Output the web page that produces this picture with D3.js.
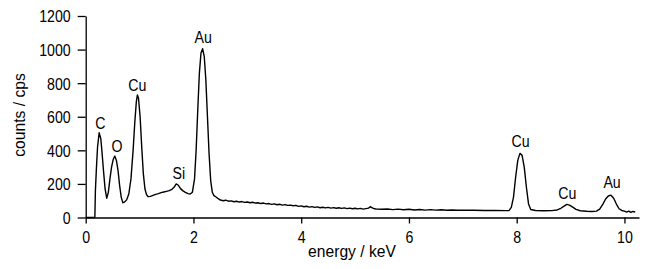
<!DOCTYPE html>
<html>
<head>
<meta charset="utf-8">
<script src="https://cdn.jsdelivr.net/npm/d3@7"></script>
<style>
  html, body { margin: 0; padding: 0; background: #fff; }
  svg { display: block; }
  text { font-family: "Liberation Sans", Arial, sans-serif; fill: #000; }
</style>
</head>
<body>
<svg id="chart" width="647" height="269"></svg>
<script>
// Spectrum: energy (keV) and counts (cps)
const energy = [
  0.00, 0.17, 0.18, 0.20, 0.22, 0.25, 0.28, 0.30, 0.33, 0.36, 0.39, 0.42, 0.45, 0.48, 0.51, 0.54, 0.57, 0.60, 0.63, 0.66, 0.69,
  0.72, 0.76, 0.80, 0.84, 0.88, 0.91, 0.94, 0.96, 0.98, 1.01, 1.04, 1.07, 1.10, 1.13, 1.16, 1.20, 1.25, 1.30, 1.35, 1.40, 1.45,
  1.50, 1.55, 1.60, 1.64, 1.68, 1.72, 1.76, 1.80, 1.85, 1.90, 1.94, 1.98, 2.02, 2.05, 2.08, 2.11, 2.14, 2.17, 2.20, 2.23, 2.26,
  2.29, 2.32, 2.35, 2.38, 2.42, 2.46, 2.50, 2.55, 2.60, 2.65, 2.70, 2.75, 2.80, 2.85, 2.90, 2.95, 3.00, 3.05, 3.10, 3.15, 3.20,
  3.25, 3.30, 3.35, 3.40, 3.45, 3.50, 3.55, 3.60, 3.65, 3.70, 3.75, 3.80, 3.85, 3.90, 3.95, 4.00, 4.05, 4.10, 4.15, 4.20, 4.25,
  4.30, 4.35, 4.40, 4.45, 4.50, 4.55, 4.60, 4.65, 4.70, 4.75, 4.80, 4.85, 4.90, 4.95, 5.00, 5.05, 5.10, 5.15, 5.20, 5.25, 5.28,
  5.32, 5.36, 5.40, 5.50, 5.60, 5.70, 5.80, 5.90, 6.00, 6.10, 6.20, 6.30, 6.40, 6.50, 6.60, 6.70, 6.80, 6.90, 7.00, 7.20, 7.40,
  7.60, 7.80, 7.86, 7.90, 7.94, 7.98, 8.02, 8.06, 8.10, 8.14, 8.18, 8.22, 8.26, 8.35, 8.50, 8.65, 8.75, 8.82, 8.88, 8.93, 8.98,
  9.04, 9.10, 9.18, 9.30, 9.40, 9.48, 9.54, 9.60, 9.65, 9.70, 9.75, 9.80, 9.85, 9.90, 9.95, 10.00, 10.04, 10.08, 10.12, 10.16, 10.20
];
const counts = [
  0, 0, 160, 300, 420, 505, 470, 400, 280, 170, 115, 150, 230, 300, 345, 366, 340, 280, 190, 120, 88,
  92, 105, 140, 230, 400, 560, 690, 730, 710, 600, 420, 260, 170, 135, 124, 126, 132, 138, 142, 148, 152,
  156, 160, 168, 180, 200, 192, 172, 160, 150, 142, 140, 150, 230, 400, 640, 860, 980, 1005, 960, 820, 600,
  380, 220, 150, 130, 122, 112, 104, 100, 103, 97, 99, 94, 97, 92, 95, 90, 92, 88, 91, 86, 88,
  83, 86, 81, 83, 78, 81, 76, 79, 74, 77, 72, 74, 70, 72, 66, 69, 64, 67, 62, 65, 60,
  63, 58, 61, 57, 60, 56, 59, 55, 58, 54, 57, 53, 56, 52, 55, 51, 54, 50, 53, 56, 64,
  58, 52, 50, 49, 51, 47, 50, 46, 49, 45, 48, 44, 47, 44, 46, 43, 45, 43, 44, 43, 42,
  42, 41, 42, 60, 120, 240, 340, 382, 370, 300, 180, 80, 48, 42, 40, 41, 45, 55, 68, 78, 74,
  62, 48, 40, 37, 36, 38, 50, 80, 110, 128, 133, 115, 80, 52, 42, 38, 32, 38, 30, 36, 33
];

const xTicks = [0, 2, 4, 6, 8, 10];
const yTicks = [0, 200, 400, 600, 800, 1000, 1200];

const peakNames = ["C", "O", "Cu", "Si", "Au", "Cu", "Cu", "Au"];
const peakEnergy = [0.27, 0.58, 0.96, 1.73, 2.18, 8.07, 8.94, 9.77];
const peakLabelCounts = [530, 392, 756, 229, 1039, 421, 112, 175];

const svg = d3.select("#chart");
const x = d3.scaleLinear().domain([0, 10.27]).range([85.7, 639]);
const y = d3.scaleLinear().domain([0, 1200]).range([217.5, 16]);

// narrow, tall glyphs like the reference: move position into a transform and squeeze horizontally
function squeeze(sel, sx) {
  sel.each(function () {
    const t = d3.select(this);
    const tx = +t.attr("x") || 0, ty = +t.attr("y") || 0;
    t.attr("x", 0).attr("y", 0).attr("transform", `translate(${tx},${ty}) scale(${sx},1)`);
  });
}

// spectrum
const pts = energy.map((e, i) => [e, counts[i]]);
svg.append("path")
  .datum(pts)
  .attr("fill", "none")
  .attr("stroke", "#000")
  .attr("stroke-width", 1.4)
  .attr("stroke-linejoin", "round")
  .attr("d", d3.line().x(d => x(d[0])).y(d => y(d[1])));

// axes
const xAxis = svg.append("g")
  .attr("transform", `translate(0,${y(0)})`)
  .call(d3.axisBottom(x).tickValues(xTicks).tickSizeInner(6).tickSizeOuter(0).tickPadding(6).tickFormat(d3.format("d")));
const yAxis = svg.append("g")
  .attr("transform", `translate(${x(0)},0)`)
  .call(d3.axisLeft(y).tickValues(yTicks).tickSizeInner(8).tickSizeOuter(0).tickPadding(7).tickFormat(d3.format("d")));

[xAxis, yAxis].forEach(g => {
  g.attr("font-family", null).attr("font-size", null);
  g.selectAll("path, line").attr("stroke", "#000").attr("stroke-width", 1.3);
  g.selectAll("text").style("font-size", "16.5px").attr("fill", "#000");
});
xAxis.selectAll("text").attr("y", 25).attr("dy", null);
yAxis.selectAll("text").attr("dy", "0.36em");
squeeze(xAxis.selectAll("text"), 0.86);
squeeze(yAxis.selectAll("text"), 0.86);

// axis titles
svg.append("text")
  .attr("x", 352).attr("y", 257)
  .attr("text-anchor", "middle")
  .style("font-size", "16.5px")
  .attr("transform", "translate(352,257) scale(0.95,1)")
  .attr("x", 0).attr("y", 0)
  .text("energy / keV");
svg.append("text")
  .attr("transform", "translate(25,115) rotate(-90) scale(0.95,1)")
  .attr("text-anchor", "middle")
  .style("font-size", "16.5px")
  .text("counts / cps");

// peak labels
const peaks = svg.selectAll("text.peak")
  .data(peakNames)
  .join("text")
  .attr("class", "peak")
  .attr("x", (d, i) => x(peakEnergy[i]))
  .attr("y", (d, i) => y(peakLabelCounts[i]))
  .attr("text-anchor", "middle")
  .style("font-size", "16.5px")
  .text(d => d);
squeeze(peaks, 0.86);
</script>
</body>
</html>
